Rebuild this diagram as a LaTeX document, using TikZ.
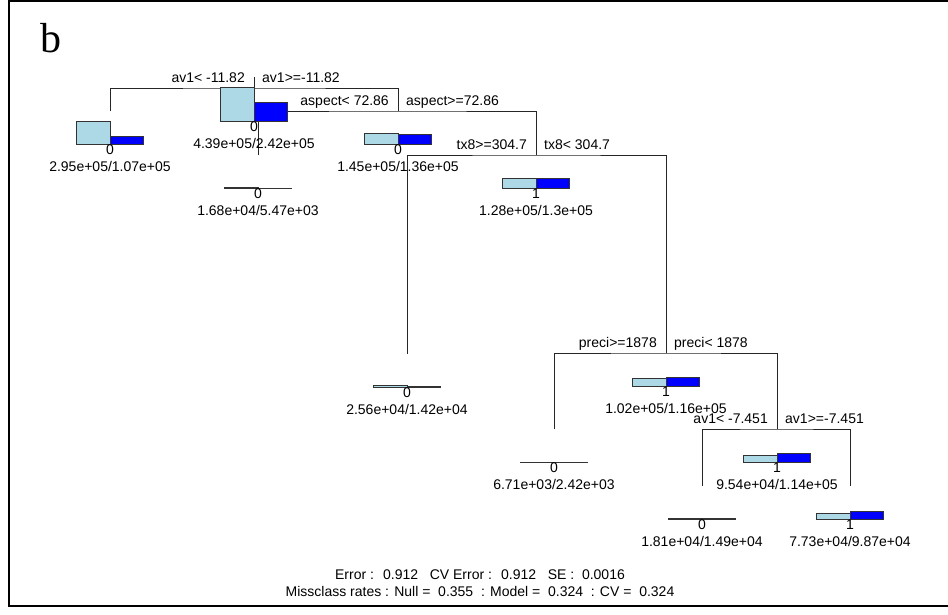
\documentclass[tikz,border=0pt]{standalone}
\usepackage{fontspec}
\setmainfont{Liberation Sans}
\newfontfamily\serifb{Liberation Serif}
\usetikzlibrary{calc}
\definecolor{lblue}{HTML}{ADD8E6}
\definecolor{bblue}{HTML}{0000FF}
\definecolor{barline}{HTML}{333333}
\tikzset{
  branch/.style={draw=black!85,line width=0.9pt},
  cls/.style={anchor=base,inner sep=0pt,font=\fontsize{14}{16}\selectfont},
  val/.style={anchor=base,inner sep=0pt,font=\fontsize{14}{16}\selectfont},
  lab/.style={inner sep=0pt,font=\fontsize{14}{16}\selectfont},
  foot/.style={anchor=base,inner sep=0pt,font=\fontsize{14}{16}\selectfont},
  barA/.style={fill=lblue,draw=barline,line width=0.9pt},
  barB/.style={fill=bblue,draw=barline,line width=0.9pt}
}
\newcommand{\treenode}[5]{%
  \path[barA] ($(#1)+(-33.6,33.5)$) rectangle ($(#1)+(0,33.5-#2)$);
  \path[barB] ($(#1)+(0,33.5)$) rectangle ($(#1)+(33.6,33.5-#3)$);
  \node[cls] (#1c) at ($(#1)+(0,43)$) {#4};
  \node[val] (#1v) at ($(#1)+(0,60)$) {#5};
}
\newcommand{\splitlabels}[3]{%
  \node[lab,anchor=base east] (#1l) at ($(#1)+(-9,-5.5)$) {#2};
  \node[lab,anchor=base west] (#1r) at ($(#1)+(8,-5.5)$) {#3};
}
\begin{document}
\begin{tikzpicture}[x=1pt,y=-1pt]
\useasboundingbox (0,0) rectangle (948,614);
\fill[white] (0,0) rectangle (948,614);
% frame
\draw[line width=2pt] (948,1) -- (9,1) -- (9,606) -- (948,606);
% panel letter
\node[anchor=base west,inner sep=0pt,font=\serifb\fontsize{42}{44}\selectfont] (letter) at (40,52) {b};
% tree coordinates
\coordinate (rootstub) at (254,77);
\coordinate (root) at (254,88);
\coordinate (L1) at (110,111);
\coordinate (asp) at (398,111);
\coordinate (L2) at (258,155);
\coordinate (tx) at (536,155);
\coordinate (L3) at (407,354);
\coordinate (pre) at (666,353);
\coordinate (L4) at (554,429);
\coordinate (avb) at (777,429);
\coordinate (L5) at (702,486);
\coordinate (L6) at (850,486);
% branches
\draw[branch] (rootstub) -- (root);
\draw[branch] (L1) |- (root) -| (asp);
\draw[branch] (L2) |- (asp) -| (tx);
\draw[branch] (L3) |- (tx) -| (pre);
\draw[branch] (L4) |- (pre) -| (avb);
\draw[branch] (L5) |- (avb) -| (L6);
% split labels
\splitlabels{root}{av1< -11.82}{av1>=-11.82}
\splitlabels{asp}{aspect< 72.86}{aspect>=72.86}
\splitlabels{tx}{tx8>=304.7}{tx8< 304.7}
\splitlabels{pre}{preci>=1878}{preci< 1878}
\splitlabels{avb}{av1< -7.451}{av1>=-7.451}
% node bars
\treenode{root}{34.0}{18.74}{0}{4.39e+05/2.42e+05}
\treenode{L1}{22.85}{8.29}{0}{2.95e+05/1.07e+05}
\treenode{asp}{11.23}{10.53}{0}{1.45e+05/1.36e+05}
\treenode{L2}{1.30}{0.42}{0}{1.68e+04/5.47e+03}
\treenode{tx}{9.91}{10.07}{1}{1.28e+05/1.3e+05}
\treenode{L3}{1.98}{1.10}{0}{2.56e+04/1.42e+04}
\treenode{pre}{7.90}{8.98}{1}{1.02e+05/1.16e+05}
\treenode{L4}{0.52}{0.19}{0}{6.71e+03/2.42e+03}
\treenode{avb}{7.39}{8.83}{1}{9.54e+04/1.14e+05}
\treenode{L5}{1.40}{1.15}{0}{1.81e+04/1.49e+04}
\treenode{L6}{5.99}{7.64}{1}{7.73e+04/9.87e+04}
% footer
\node[foot] (f1) at (480,579) {Error :~ 0.912~~ CV Error :~ 0.912~~ SE :~ 0.0016};
\node[foot] (f2) at (480,596) {Missclass rates : Null =~ 0.355~ : Model =~ 0.324~ : CV =~ 0.324};
\end{tikzpicture}
\end{document}
